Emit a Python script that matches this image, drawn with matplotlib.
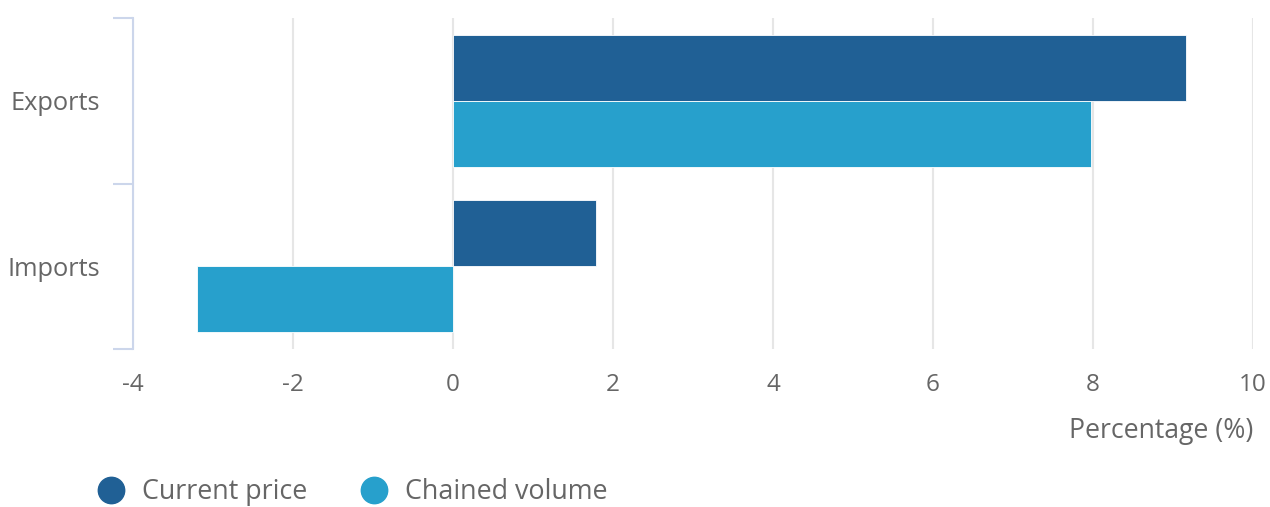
import matplotlib.pyplot as plt
import numpy as np
from matplotlib.lines import Line2D

plt.rcParams['font.family'] = ['Open Sans', 'DejaVu Sans']

categories = ['Exports', 'Imports']
current_price = [9.16, 1.79]
chained_volume = [7.98, -3.2]
series_names = ['Current price', 'Chained volume']
colors = ['#206095', '#27a0cc']
xticks = [-4, -2, 0, 2, 4, 6, 8, 10]

text_col = '#666666'
axis_col = '#ccd6eb'

fig = plt.figure(figsize=(12.7, 5.07), dpi=100)
ax = fig.add_axes([133 / 1270, 158 / 507, 1120 / 1270, 331 / 507])

y = np.arange(len(categories))
ax.barh(y - 0.2, current_price, height=0.4, color=colors[0], edgecolor='white', linewidth=0.6, zorder=3)
ax.barh(y + 0.2, chained_volume, height=0.4, color=colors[1], edgecolor='white', linewidth=0.6, zorder=3)

ax.set_xlim(-4, 10)
ax.set_ylim(1.5, -0.5)
ax.set_xticks(xticks)
ax.set_xticklabels([str(t) for t in xticks])
ax.set_yticks(y)
ax.set_yticklabels(categories)
ax.set_yticks([-0.5, 0.5, 1.5], minor=True)

ax.tick_params(axis='x', length=0, pad=17.5, labelsize=17.5, labelcolor=text_col)
ax.tick_params(axis='y', which='major', length=0, pad=24, labelsize=18.3, labelcolor=text_col)
ax.tick_params(axis='y', which='minor', length=14.5, width=1.5, color=axis_col)

ax.grid(axis='x', color='#e6e6e6', linewidth=1.5, zorder=0)
for s in ['top', 'right', 'bottom']:
    ax.spines[s].set_visible(False)
ax.spines['left'].set_color(axis_col)
ax.spines['left'].set_linewidth(1.5)
ax.spines['left'].set_zorder(4)

fig.text(1253 / 1270, 1 - 431 / 507, 'Percentage (%)', ha='right', va='center',
         fontsize=19.2, color=text_col)

handles = [Line2D([], [], linestyle='none', marker='o', markersize=19,
                  markerfacecolor=c, markeredgecolor=c) for c in colors]
fig.legend(handles, series_names, loc='center left', bbox_to_anchor=(98 / 1270, 1 - 492 / 507),
           ncol=2, frameon=False, fontsize=19.4, labelcolor=text_col, borderpad=0, borderaxespad=0,
           handletextpad=0.65, columnspacing=1.95, handlelength=1.0)

fig.savefig('out.png', dpi=100)
